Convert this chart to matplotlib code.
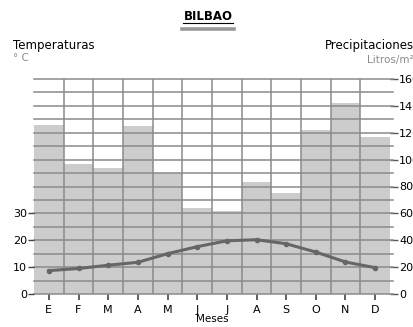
import numpy as np
import matplotlib
matplotlib.use("Agg")
import matplotlib.pyplot as plt
from matplotlib.lines import Line2D
from matplotlib.transforms import blended_transform_factory

# data
meses = ["E", "F", "M", "A", "M", "J", "J", "A", "S", "O", "N", "D"]
precip = [126, 97, 94, 125, 90, 64, 62, 83, 75, 122, 142, 117]      # litros/m2
temp = [8.7, 9.5, 10.7, 11.8, 15.0, 17.6, 19.8, 20.2, 18.7, 15.6, 11.9, 9.8]  # grados C
precip_ticks = list(range(0, 161, 20))
temp_ticks = [0, 10, 20, 30]

GRID = '#8a8a8a'; BAR = '#cccccc'; LINE = '#666666'; SUB = '#8c8c8c'
plt.rcParams['font.family'] = ['DejaVu Sans']

fig = plt.figure(figsize=(4.14, 3.27), dpi=100)
W, H = 414, 327
x0, x1, ytop, ybot = 34, 390, 79, 294
axp = fig.add_axes([x0/W, 1-ybot/H, (x1-x0)/W, (ybot-ytop)/H])
axt = axp.twinx()
x = np.arange(len(meses))

# precipitation bars + grid (right axis)
axp.bar(x, precip, width=1.0, color=BAR, zorder=1)
axp.set_xlim(-0.5, len(meses)-0.5); axp.set_ylim(0, 160)
tr = blended_transform_factory(axp.transAxes, axp.transData)
for v in range(0, 161, 10):
    axp.plot([0, 1.008], [v, v], color=GRID, lw=1.1, transform=tr, clip_on=False, zorder=2)
for b in np.arange(0.5, len(meses)-1, 1.0):
    axp.plot([b, b], [0, 160], color=GRID, lw=1.1, zorder=2)
for s in axp.spines.values(): s.set_visible(False)
axp.yaxis.tick_right()
axp.set_yticks(precip_ticks)
axp.tick_params(axis='y', length=5.5, width=1.0, color='#555555', pad=1, labelsize=8)
axp.set_xticks(x); axp.set_xticklabels(meses)
axp.tick_params(axis='x', length=4, width=1.2, color='#444444', pad=4, labelsize=8)
axp.set_xlabel('Meses', fontsize=7.5, labelpad=-1)

# temperature line (left axis)
axt.plot(x, temp, '-o', color=LINE, lw=2.2, ms=3, zorder=5)
axt.set_ylim(0, 80)
for s in axt.spines.values(): s.set_visible(False)
axt.yaxis.tick_left()
axt.set_yticks(temp_ticks)
axt.tick_params(axis='y', length=4, width=1.0, color='#444444', pad=1, labelsize=8)

fig.text(208/W, 1-17/H, 'BILBAO', ha='center', va='center', fontsize=8.5, fontweight='bold')
fig.add_artist(Line2D([183/W, 233/W], [1-23/H, 1-23/H], color='black', lw=0.8))
fig.add_artist(Line2D([182/W, 234/W], [1-28.5/H, 1-28.5/H], color='#999999', lw=2.6))
fig.text(13/W, 1-45/H, 'Temperaturas', ha='left', va='center', fontsize=8.5)
fig.text(13/W, 1-58/H, '° C', ha='left', va='center', fontsize=7.5, color=SUB)
fig.text(414/W, 1-45/H, 'Precipitaciones', ha='right', va='center', fontsize=8.5)
fig.text(414/W, 1-60/H, 'Litros/m²', ha='right', va='center', fontsize=7.5, color=SUB)

fig.savefig('out.png', dpi=100)
